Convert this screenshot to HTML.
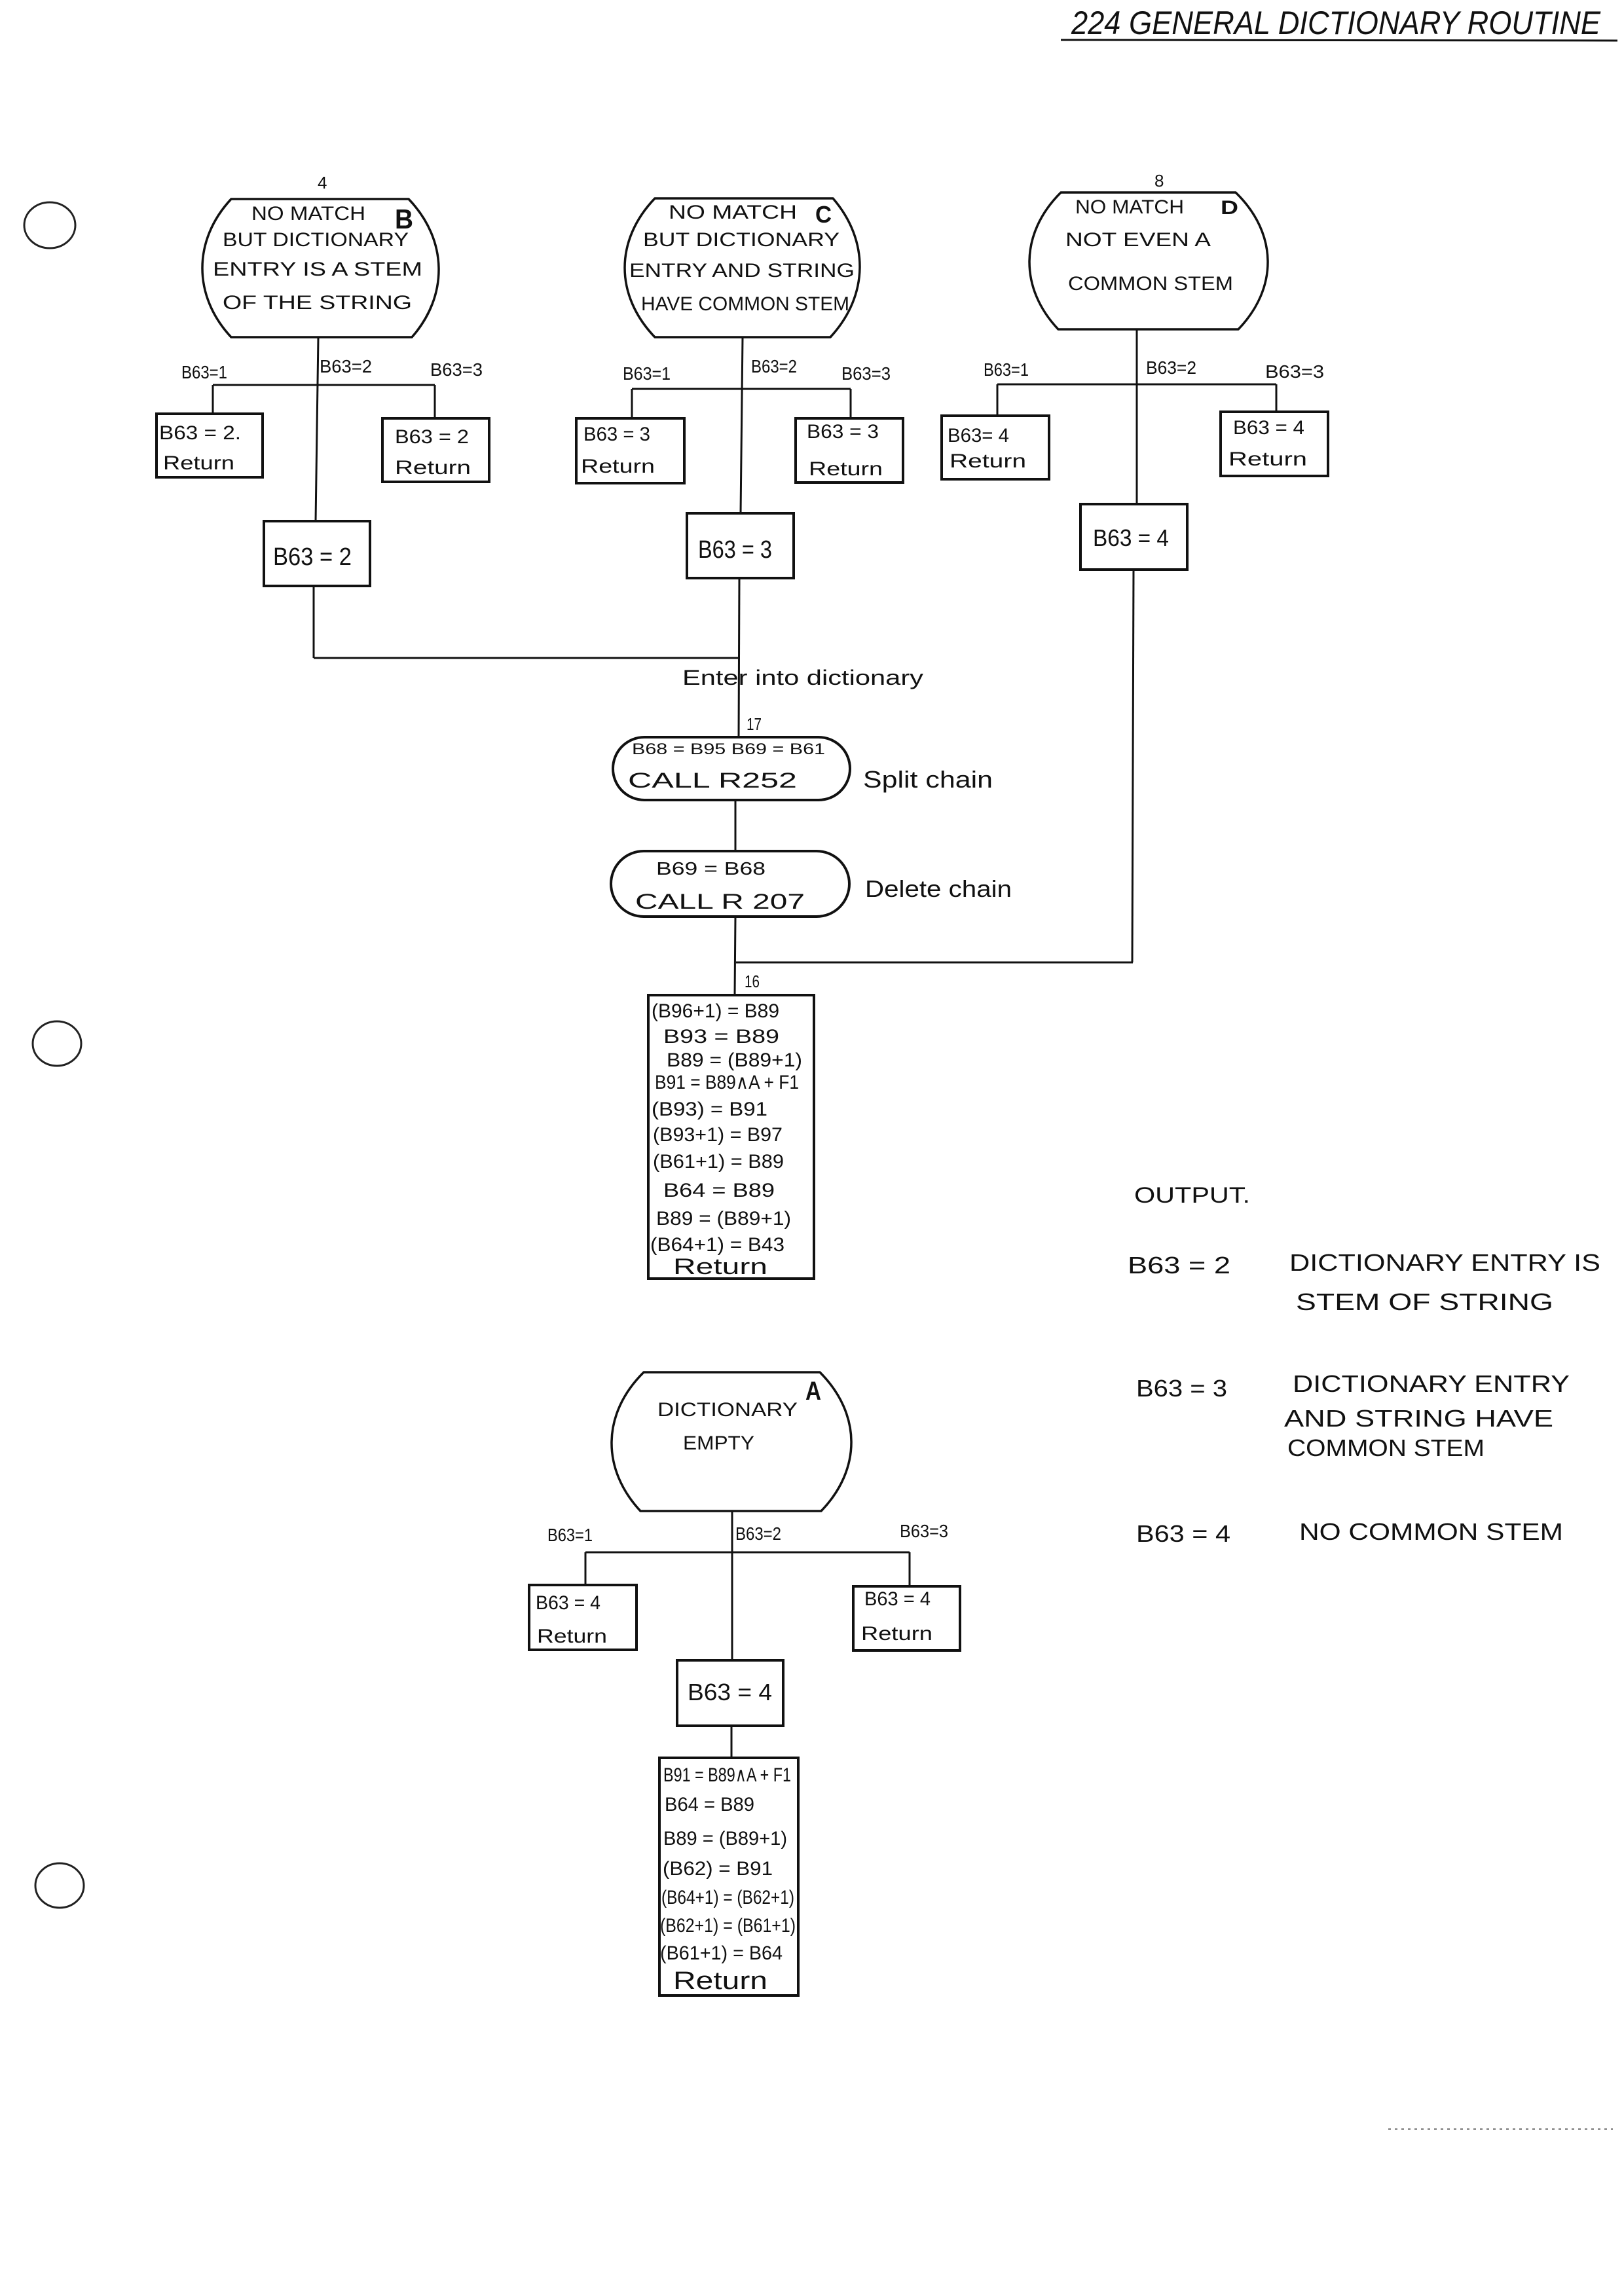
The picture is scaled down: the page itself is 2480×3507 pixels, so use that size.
<!DOCTYPE html>
<html>
<head>
<meta charset="utf-8">
<style>
  html, body { margin: 0; padding: 0; background: #ffffff; }
  svg { display: block; }
  text { font-family: "Liberation Sans", "DejaVu Sans", sans-serif; fill: #111; }
  .t { font-size: 30px; }
  .lab { font-size: 28px; }
  .bx { font-size: 30px; }
  .big { font-size: 38px; }
  .bold { font-weight: bold; }
  .num { font-size: 26px; }
  .out { font-size: 36px; }
  .shape { fill: none; stroke: #111; stroke-width: 3.5; stroke-linejoin: round; }
  .box { fill: none; stroke: #111; stroke-width: 4; }
  .ln { stroke: #111; stroke-width: 3; fill: none; }
</style>
</head>
<body>
<svg xmlns="http://www.w3.org/2000/svg" width="2480" height="3507" viewBox="0 0 2480 3507">
  <rect x="0" y="0" width="2480" height="3507" fill="#ffffff"/>

  <!-- Title -->
  <text x="1636" y="52" style="font-size:50px;font-style:italic" textLength="808" lengthAdjust="spacingAndGlyphs">224  GENERAL  DICTIONARY  ROUTINE</text>
  <line class="ln" x1="1620" y1="61" x2="2470" y2="62" stroke-width="3.5"/>

  <!-- Punch holes -->
  <ellipse cx="76" cy="344" rx="39" ry="35" fill="none" stroke="#222" stroke-width="3"/>
  <ellipse cx="87" cy="1594" rx="37" ry="34" fill="none" stroke="#222" stroke-width="3"/>
  <ellipse cx="91" cy="2880" rx="37" ry="34" fill="none" stroke="#222" stroke-width="3"/>

  <!-- ================= B ================= -->
  <text class="num" x="485" y="288">4</text>
  <path class="shape" d="M353,304 L624,304 C684.5,367 684.5,452 629,515 L353,515 C294.3,452 294.3,367 353,304 Z"/>
  <text class="t" x="384" y="336" textLength="174" lengthAdjust="spacingAndGlyphs">NO MATCH</text>
  <text class="bold" x="603" y="349" style="font-size:42px" textLength="28" lengthAdjust="spacingAndGlyphs">B</text>
  <text class="t" x="340" y="376" textLength="284" lengthAdjust="spacingAndGlyphs">BUT  DICTIONARY</text>
  <text class="t" x="325" y="421" textLength="320" lengthAdjust="spacingAndGlyphs">ENTRY  IS  A  STEM</text>
  <text class="t" x="340" y="472" textLength="289" lengthAdjust="spacingAndGlyphs">OF  THE  STRING</text>

  <line class="ln" x1="486" y1="515" x2="482" y2="796"/>
  <line class="ln" x1="325" y1="588" x2="664" y2="588"/>
  <line class="ln" x1="325" y1="588" x2="325" y2="632"/>
  <line class="ln" x1="664" y1="588" x2="664" y2="639"/>
  <text class="lab" x="277" y="578" textLength="70" lengthAdjust="spacingAndGlyphs">B63=1</text>
  <text class="lab" x="488" y="569" textLength="80" lengthAdjust="spacingAndGlyphs">B63=2</text>
  <text class="lab" x="657" y="574" textLength="80" lengthAdjust="spacingAndGlyphs">B63=3</text>

  <rect class="box" x="239" y="632" width="162" height="97"/>
  <text class="bx" x="243" y="671" textLength="125" lengthAdjust="spacingAndGlyphs">B63 = 2.</text>
  <text class="bx" x="249" y="717" textLength="109" lengthAdjust="spacingAndGlyphs">Return</text>

  <rect class="box" x="584" y="639" width="163" height="97"/>
  <text class="bx" x="603" y="677" textLength="113" lengthAdjust="spacingAndGlyphs">B63 = 2</text>
  <text class="bx" x="603" y="724" textLength="116" lengthAdjust="spacingAndGlyphs">Return</text>

  <rect class="box" x="403" y="796" width="162" height="99"/>
  <text class="big" x="417" y="863" textLength="120" lengthAdjust="spacingAndGlyphs">B63 = 2</text>

  <line class="ln" x1="479" y1="895" x2="479" y2="1005"/>
  <line class="ln" x1="479" y1="1005" x2="1128" y2="1005"/>

  <!-- ================= C ================= -->
  <path class="shape" d="M1000,303 L1272,303 C1327.3,367 1327.3,451 1268,515 L1000,515 C938.7,451 938.7,367 1000,303 Z"/>
  <text class="t" x="1021" y="334" textLength="196" lengthAdjust="spacingAndGlyphs">NO  MATCH</text>
  <text class="bold" x="1245" y="340" style="font-size:36px" textLength="25" lengthAdjust="spacingAndGlyphs">C</text>
  <text class="t" x="982" y="376" textLength="300" lengthAdjust="spacingAndGlyphs">BUT  DICTIONARY</text>
  <text class="t" x="961" y="423" textLength="344" lengthAdjust="spacingAndGlyphs">ENTRY  AND  STRING</text>
  <text class="t" x="979" y="474" textLength="318" lengthAdjust="spacingAndGlyphs">HAVE  COMMON STEM</text>

  <line class="ln" x1="1134" y1="515" x2="1131" y2="784"/>
  <line class="ln" x1="965" y1="594" x2="1299" y2="594"/>
  <line class="ln" x1="965" y1="594" x2="965" y2="639"/>
  <line class="ln" x1="1299" y1="594" x2="1299" y2="639"/>
  <text class="lab" x="951" y="580" textLength="73" lengthAdjust="spacingAndGlyphs">B63=1</text>
  <text class="lab" x="1147" y="569" textLength="70" lengthAdjust="spacingAndGlyphs">B63=2</text>
  <text class="lab" x="1285" y="580" textLength="75" lengthAdjust="spacingAndGlyphs">B63=3</text>

  <rect class="box" x="880" y="639" width="165" height="99"/>
  <text class="bx" x="891" y="673" textLength="102" lengthAdjust="spacingAndGlyphs">B63 = 3</text>
  <text class="bx" x="887" y="722" textLength="113" lengthAdjust="spacingAndGlyphs">Return</text>

  <rect class="box" x="1215" y="639" width="164" height="98"/>
  <text class="bx" x="1232" y="669" textLength="110" lengthAdjust="spacingAndGlyphs">B63 = 3</text>
  <text class="bx" x="1235" y="726" textLength="113" lengthAdjust="spacingAndGlyphs">Return</text>

  <rect class="box" x="1049" y="784" width="163" height="99"/>
  <text class="big" x="1066" y="852" textLength="113" lengthAdjust="spacingAndGlyphs">B63 = 3</text>

  <line class="ln" x1="1129" y1="883" x2="1128" y2="1126"/>

  <!-- ================= D ================= -->
  <text class="num" x="1763" y="285">8</text>
  <path class="shape" d="M1620,294 L1887,294 C1951.7,357 1951.7,440 1891,503 L1616,503 C1556.7,440 1556.7,357 1620,294 Z"/>
  <text class="t" x="1642" y="326" textLength="166" lengthAdjust="spacingAndGlyphs">NO  MATCH</text>
  <text class="bold" x="1864" y="327" style="font-size:30px" textLength="27" lengthAdjust="spacingAndGlyphs">D</text>
  <text class="t" x="1627" y="376" textLength="222" lengthAdjust="spacingAndGlyphs">NOT  EVEN  A</text>
  <text class="t" x="1631" y="443" textLength="252" lengthAdjust="spacingAndGlyphs">COMMON  STEM</text>

  <line class="ln" x1="1736" y1="503" x2="1736" y2="770"/>
  <line class="ln" x1="1523" y1="587" x2="1949" y2="587"/>
  <line class="ln" x1="1523" y1="587" x2="1523" y2="635"/>
  <line class="ln" x1="1949" y1="587" x2="1949" y2="629"/>
  <text class="lab" x="1502" y="574" textLength="69" lengthAdjust="spacingAndGlyphs">B63=1</text>
  <text class="lab" x="1750" y="571" textLength="77" lengthAdjust="spacingAndGlyphs">B63=2</text>
  <text class="lab" x="1932" y="577" textLength="90" lengthAdjust="spacingAndGlyphs">B63=3</text>

  <rect class="box" x="1438" y="635" width="164" height="97"/>
  <text class="bx" x="1447" y="675" textLength="94" lengthAdjust="spacingAndGlyphs">B63= 4</text>
  <text class="bx" x="1450" y="714" textLength="117" lengthAdjust="spacingAndGlyphs">Return</text>

  <rect class="box" x="1864" y="629" width="164" height="98"/>
  <text class="bx" x="1883" y="663" textLength="109" lengthAdjust="spacingAndGlyphs">B63 = 4</text>
  <text class="bx" x="1876" y="711" textLength="120" lengthAdjust="spacingAndGlyphs">Return</text>

  <rect class="box" x="1650" y="770" width="163" height="100"/>
  <text class="big" x="1669" y="834" style="font-size:36px" textLength="116" lengthAdjust="spacingAndGlyphs">B63 = 4</text>

  <line class="ln" x1="1731" y1="870" x2="1729" y2="1470"/>
  <line class="ln" x1="1124" y1="1470" x2="1730" y2="1470"/>

  <!-- ================= Middle flow ================= -->
  <text x="1042" y="1046" style="font-size:32px" textLength="368" lengthAdjust="spacingAndGlyphs">Enter into dictionary</text>
  <text class="num" x="1140" y="1115" textLength="23" lengthAdjust="spacingAndGlyphs">17</text>

  <rect class="box" x="936" y="1126" width="362" height="96" rx="48" ry="48" stroke-width="3.5"/>
  <text x="965" y="1152" style="font-size:24px" textLength="295" lengthAdjust="spacingAndGlyphs">B68 = B95     B69 = B61</text>
  <text x="959" y="1203" style="font-size:32px" textLength="258" lengthAdjust="spacingAndGlyphs">CALL  R252</text>
  <text x="1318" y="1203" style="font-size:36px" textLength="198" lengthAdjust="spacingAndGlyphs">Split chain</text>

  <line class="ln" x1="1123" y1="1222" x2="1123" y2="1300"/>

  <rect class="box" x="933" y="1300" width="364" height="100" rx="50" ry="50" stroke-width="3.5"/>
  <text x="1002" y="1336" style="font-size:28px" textLength="167" lengthAdjust="spacingAndGlyphs">B69 = B68</text>
  <text x="970" y="1388" style="font-size:32px" textLength="259" lengthAdjust="spacingAndGlyphs">CALL   R 207</text>
  <text x="1321" y="1370" style="font-size:36px" textLength="224" lengthAdjust="spacingAndGlyphs">Delete chain</text>

  <line class="ln" x1="1123" y1="1400" x2="1122" y2="1520"/>
  <text class="num" x="1137" y="1508" textLength="23" lengthAdjust="spacingAndGlyphs">16</text>

  <rect class="box" x="990" y="1520" width="253" height="433"/>
  <text class="bx" x="995" y="1554" textLength="195" lengthAdjust="spacingAndGlyphs">(B96+1) = B89</text>
  <text class="bx" x="1013" y="1593" textLength="177" lengthAdjust="spacingAndGlyphs">B93  =  B89</text>
  <text class="bx" x="1018" y="1629" textLength="207" lengthAdjust="spacingAndGlyphs">B89  = (B89+1)</text>
  <text class="bx" x="1000" y="1663" textLength="220" lengthAdjust="spacingAndGlyphs">B91 = B89∧A + F1</text>
  <text class="bx" x="995" y="1704" textLength="177" lengthAdjust="spacingAndGlyphs">(B93) =  B91</text>
  <text class="bx" x="997" y="1743" textLength="198" lengthAdjust="spacingAndGlyphs">(B93+1) = B97</text>
  <text class="bx" x="997" y="1784" textLength="200" lengthAdjust="spacingAndGlyphs">(B61+1)  = B89</text>
  <text class="bx" x="1013" y="1828" textLength="170" lengthAdjust="spacingAndGlyphs">B64  =  B89</text>
  <text class="bx" x="1002" y="1871" textLength="206" lengthAdjust="spacingAndGlyphs">B89 = (B89+1)</text>
  <text class="bx" x="993" y="1911" textLength="205" lengthAdjust="spacingAndGlyphs">(B64+1) = B43</text>
  <text x="1028" y="1946" style="font-size:34px" textLength="144" lengthAdjust="spacingAndGlyphs">Return</text>

  <!-- ================= OUTPUT ================= -->
  <text x="1732" y="1837" style="font-size:34px" textLength="177" lengthAdjust="spacingAndGlyphs">OUTPUT.</text>
  <text class="out" x="1722" y="1945" textLength="157" lengthAdjust="spacingAndGlyphs">B63 = 2</text>
  <text class="out" x="1969" y="1941" textLength="475" lengthAdjust="spacingAndGlyphs">DICTIONARY  ENTRY  IS</text>
  <text class="out" x="1979" y="2001" textLength="393" lengthAdjust="spacingAndGlyphs">STEM  OF  STRING</text>
  <text class="out" x="1735" y="2133" textLength="139" lengthAdjust="spacingAndGlyphs">B63 = 3</text>
  <text class="out" x="1974" y="2126" textLength="423" lengthAdjust="spacingAndGlyphs">DICTIONARY   ENTRY</text>
  <text class="out" x="1961" y="2179" textLength="411" lengthAdjust="spacingAndGlyphs">AND  STRING  HAVE</text>
  <text class="out" x="1966" y="2224" textLength="301" lengthAdjust="spacingAndGlyphs">COMMON  STEM</text>
  <text class="out" x="1735" y="2355" textLength="144" lengthAdjust="spacingAndGlyphs">B63 = 4</text>
  <text class="out" x="1984" y="2352" textLength="403" lengthAdjust="spacingAndGlyphs">NO   COMMON   STEM</text>

  <!-- ================= A ================= -->
  <path class="shape" d="M983,2096 L1252,2096 C1315.7,2160 1315.7,2244 1254,2308 L978,2308 C918.5,2244 918.5,2160 983,2096 Z"/>
  <text class="t" x="1004" y="2163" textLength="214" lengthAdjust="spacingAndGlyphs">DICTIONARY</text>
  <text class="bold" x="1230" y="2138" style="font-size:40px" textLength="24" lengthAdjust="spacingAndGlyphs">A</text>
  <text class="t" x="1043" y="2214" textLength="109" lengthAdjust="spacingAndGlyphs">EMPTY</text>

  <line class="ln" x1="1118" y1="2308" x2="1118" y2="2536"/>
  <line class="ln" x1="894" y1="2371" x2="1389" y2="2371"/>
  <line class="ln" x1="894" y1="2371" x2="894" y2="2421"/>
  <line class="ln" x1="1389" y1="2371" x2="1389" y2="2423"/>
  <text class="lab" x="836" y="2354" textLength="69" lengthAdjust="spacingAndGlyphs">B63=1</text>
  <text class="lab" x="1123" y="2352" textLength="70" lengthAdjust="spacingAndGlyphs">B63=2</text>
  <text class="lab" x="1374" y="2348" textLength="74" lengthAdjust="spacingAndGlyphs">B63=3</text>

  <rect class="box" x="808" y="2421" width="164" height="99"/>
  <text class="bx" x="818" y="2458" textLength="99" lengthAdjust="spacingAndGlyphs">B63 = 4</text>
  <text class="bx" x="820" y="2509" textLength="107" lengthAdjust="spacingAndGlyphs">Return</text>

  <rect class="box" x="1303" y="2423" width="163" height="98"/>
  <text class="bx" x="1320" y="2452" textLength="101" lengthAdjust="spacingAndGlyphs">B63 = 4</text>
  <text class="bx" x="1315" y="2505" textLength="109" lengthAdjust="spacingAndGlyphs">Return</text>

  <rect class="box" x="1034" y="2536" width="162" height="100"/>
  <text class="big" x="1050" y="2597" style="font-size:36px" textLength="129" lengthAdjust="spacingAndGlyphs">B63 = 4</text>

  <line class="ln" x1="1117" y1="2636" x2="1117" y2="2685"/>

  <rect class="box" x="1007" y="2685" width="212" height="363"/>
  <text class="bx" x="1013" y="2721" textLength="195" lengthAdjust="spacingAndGlyphs">B91 = B89∧A + F1</text>
  <text class="bx" x="1015" y="2766" textLength="137" lengthAdjust="spacingAndGlyphs">B64 = B89</text>
  <text class="bx" x="1013" y="2818" textLength="189" lengthAdjust="spacingAndGlyphs">B89 = (B89+1)</text>
  <text class="bx" x="1012" y="2864" textLength="168" lengthAdjust="spacingAndGlyphs">(B62) = B91</text>
  <text class="bx" x="1010" y="2908" textLength="203" lengthAdjust="spacingAndGlyphs">(B64+1) = (B62+1)</text>
  <text class="bx" x="1008" y="2951" textLength="207" lengthAdjust="spacingAndGlyphs">(B62+1) = (B61+1)</text>
  <text class="bx" x="1008" y="2993" textLength="187" lengthAdjust="spacingAndGlyphs">(B61+1) = B64</text>
  <text x="1028" y="3038" style="font-size:38px" textLength="144" lengthAdjust="spacingAndGlyphs">Return</text>

  <!-- scanner artifact -->
  <line x1="2120" y1="3252" x2="2463" y2="3252" stroke="#777" stroke-width="2" stroke-dasharray="4 6"/>
</svg>
</body>
</html>
